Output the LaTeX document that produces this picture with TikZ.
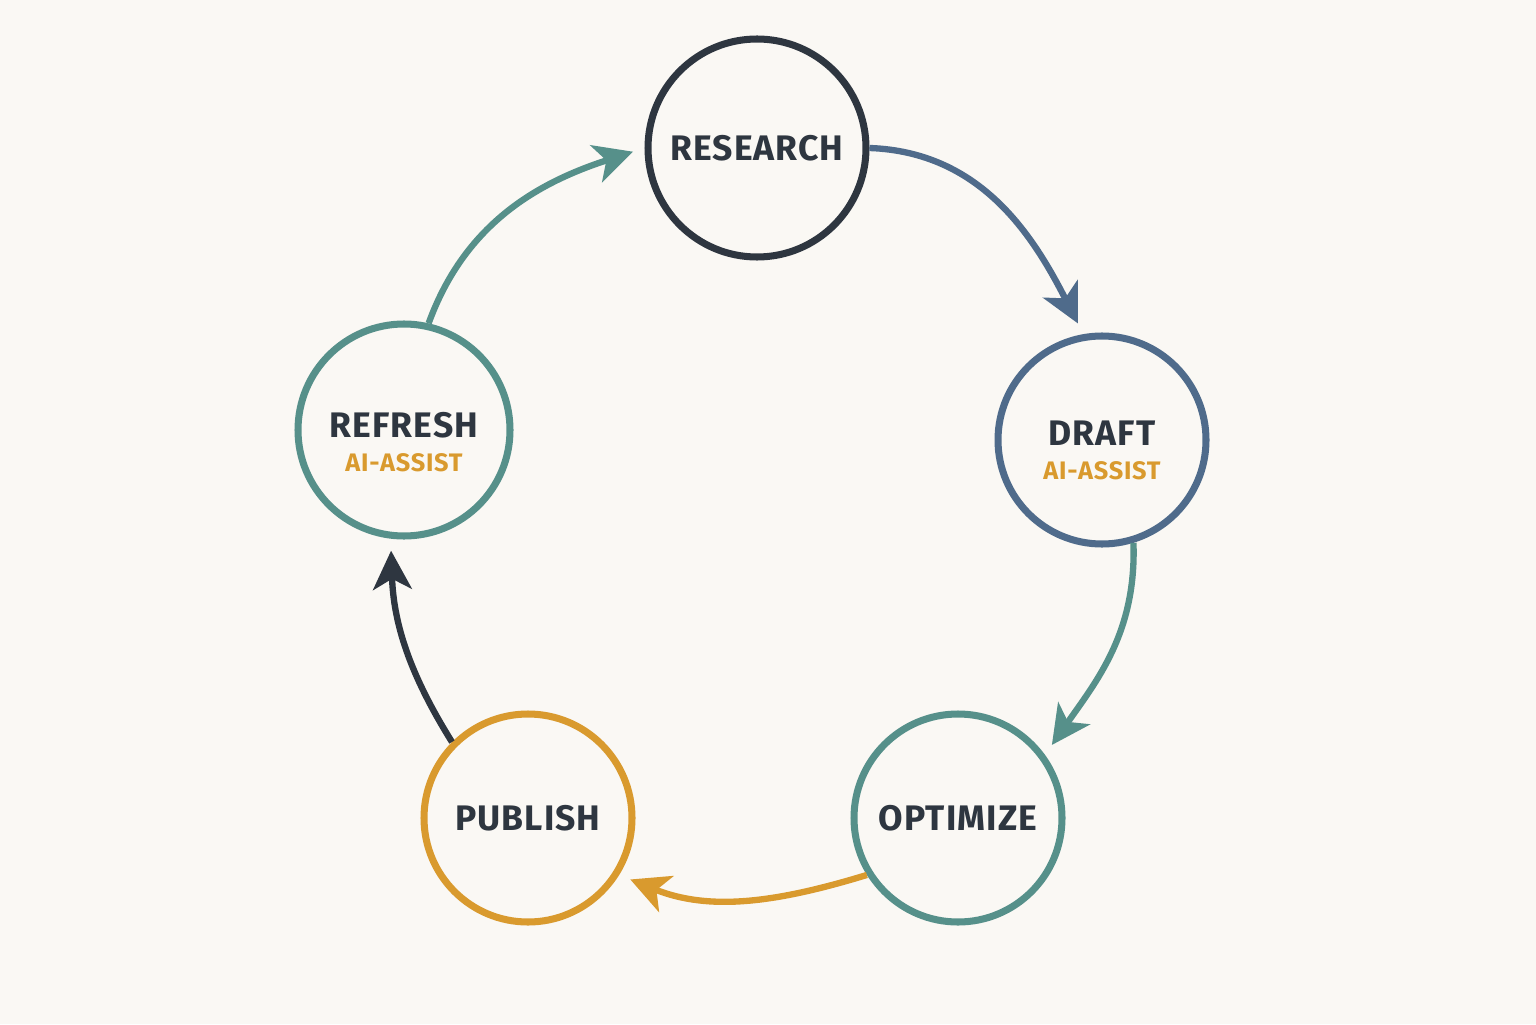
\documentclass[tikz,border=0pt]{standalone}
\usepackage{fontspec}
\setmainfont{Fira Sans}
\newfontfamily\stagefont[LetterSpace=3]{Fira Sans}
\usepackage{tikz}
\usetikzlibrary{arrows.meta,positioning}
\definecolor{inkdark}{HTML}{2E3640}
\definecolor{slateblue}{HTML}{4F6B8B}
\definecolor{sagegreen}{HTML}{56908A}
\definecolor{amber}{HTML}{D99A2E}
\definecolor{paper}{HTML}{FAF8F4}

\begin{document}
\begin{tikzpicture}[x=1cm,y=1cm]
  \tikzset{
    stage/.style={circle, draw=#1, fill=paper, line width=2pt, minimum size=2.1cm, inner sep=0pt, align=center, text=inkdark, font=\stagefont\fontsize{10.1}{12}\selectfont\bfseries},
    flow/.style={-{Stealth[length=11pt, width=11pt, inset=3pt]}, draw=#1, line width=1.8pt, shorten >=0.12cm},
    assist/.style={font=\stagefont\fontsize{7.2}{8}\selectfont\bfseries, text=amber, inner sep=0pt}
  }

  % canvas
  \fill[paper] (0,0) rectangle (15.36,10.24);
  \useasboundingbox (0,0) rectangle (15.36,10.24);

  % stage positions
  \def\xR{7.57}\def\yR{8.76}
  \def\xD{11.02}\def\yD{5.84}
  \def\xO{9.58}\def\yO{2.06}
  \def\xP{5.28}\def\yP{2.06}
  \def\xF{4.04}\def\yF{5.94}

  % stages
  \node[stage=inkdark, minimum size=2.18cm] (research) at (\xR,\yR) {RESEARCH};
  \node[stage=slateblue, minimum size=2.08cm, label={[assist, yshift=-0.31cm]center:AI-ASSIST}] (draft) at (\xD,\yD) {\raisebox{-0.05cm}[0pt][0pt]{DRAFT}};
  \node[stage=sagegreen, minimum size=2.08cm] (optimize) at (\xO,\yO) {OPTIMIZE};
  \node[stage=amber, minimum size=2.08cm] (publish) at (\xP,\yP) {PUBLISH};
  \node[stage=sagegreen, minimum size=2.12cm, label={[assist, yshift=-0.33cm]center:AI-ASSIST}] (refresh) at (\xF,\yF) {\raisebox{-0.07cm}[0pt][0pt]{REFRESH}};

  % cycle arrows
  \draw[flow=slateblue] (research.east) to[out=-2, in=117] (draft.100);
  \draw[flow=sagegreen] (draft.-73) to[out=-88, in=55] (optimize.36);
  \draw[flow=amber] (optimize.212) to[out=197, in=-22] (publish.-32);
  \draw[flow=inkdark] (publish.135) to[out=122, in=-88] (refresh.-97);
  \draw[flow=sagegreen] (refresh.77) to[out=70, in=198] (research.west);

\end{tikzpicture}
\end{document}
